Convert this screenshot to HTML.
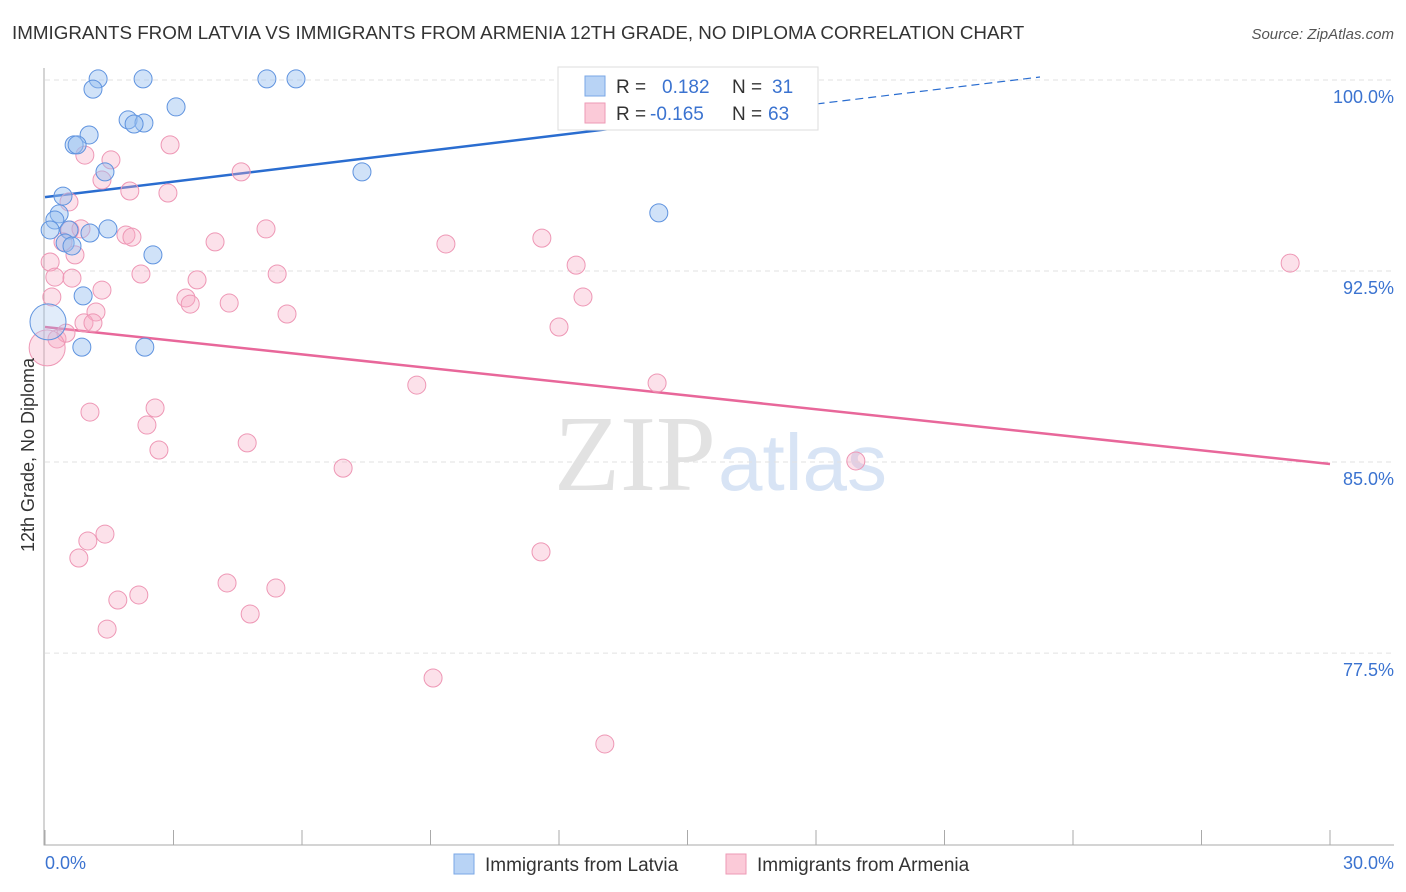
<!DOCTYPE html>
<html><head><meta charset="utf-8"><style>
body{margin:0;background:#fff;font-family:"Liberation Sans",sans-serif}
#wrap{position:relative;width:1406px;height:892px;overflow:hidden}
</style></head><body>
<div id="wrap">
<svg id="svg" width="1406" height="892" xmlns="http://www.w3.org/2000/svg">
<text x="12" y="39" font-size="18.8" fill="#333">IMMIGRANTS FROM LATVIA VS IMMIGRANTS FROM ARMENIA 12TH GRADE, NO DIPLOMA CORRELATION CHART</text>
<text x="1394" y="39" font-size="15" fill="#555" font-style="italic" text-anchor="end">Source: ZipAtlas.com</text>
<text x="716" y="490" font-size="108" fill="#e2e2e2" font-family="Liberation Serif,serif" text-anchor="end">ZIP</text>
<text x="718" y="490" font-size="80" fill="#d8e4f5">atlas</text>
<g id="grid"></g>
<g id="axes"></g>
<g id="lines"></g>
<g id="pts"></g>
<text transform="translate(34,455) rotate(-90)" font-size="18" fill="#333" text-anchor="middle">12th Grade, No Diploma</text>
<text x="45" y="869" font-size="18" fill="#3b73d0">0.0%</text>
<text x="1394" y="869" font-size="18" fill="#3b73d0" text-anchor="end">30.0%</text>
<g>
<rect x="558" y="67" width="260" height="63" fill="#fff" stroke="#ddd"/>
<rect x="585" y="76" width="20" height="20" fill="#b8d3f5" stroke="#7aa7e6"/>
<rect x="585" y="103" width="20" height="20" fill="#fbcad8" stroke="#ee9ab6"/>
<text x="616" y="93" font-size="19" fill="#333">R = </text><text x="662" y="93" font-size="19" fill="#3b73d0">0.182</text>
<text x="732" y="93" font-size="19" fill="#333">N = </text><text x="772" y="93" font-size="19" fill="#3b73d0">31</text>
<text x="616" y="120" font-size="19" fill="#333">R = </text><text x="650" y="120" font-size="19" fill="#3b73d0">-0.165</text>
<text x="732" y="120" font-size="19" fill="#333">N = </text><text x="768" y="120" font-size="19" fill="#3b73d0">63</text>
</g>
<g>
<rect x="454" y="854" width="20" height="20" fill="#b8d3f5" stroke="#7aa7e6"/>
<text x="485" y="871" font-size="19" fill="#333">Immigrants from Latvia</text>
<rect x="726" y="854" width="20" height="20" fill="#fbcad8" stroke="#ee9ab6"/>
<text x="757" y="871" font-size="19" fill="#333">Immigrants from Armenia</text>
</g>
</svg>
</div>
<script>
const yTicks=[100,92.5,85,77.5];
const yTickLabels=["100.0%","92.5%","85.0%","77.5%"];
const xTicks=[0,3,6,9,12,15,18,21,24,27,30];
const latviaX=[1.24,2.29,5.18,5.86,1.12,3.06,1.94,2.31,2.08,1.03,0.68,0.75,1.40,7.40,0.42,14.33,0.33,0.23,0.12,1.47,0.56,1.05,0.47,0.63,2.52,0.89,0.86,2.33,0.07];
const latviaY=[100.71,100.71,100.71,100.71,100.31,99.61,99.10,98.98,98.94,98.51,98.12,98.12,97.06,97.06,96.11,95.45,95.41,95.17,94.78,94.82,94.78,94.66,94.27,94.15,93.80,92.19,90.18,90.18,91.17];
const latviaSize=[1,1,1,1,1,1,1,1,1,1,1,1,1,1,1,1,1,1,1,1,1,1,1,1,1,1,1,1,2];
const armeniaX=[0.93,1.54,2.92,4.58,1.33,1.98,2.87,0.56,0.58,0.84,1.89,2.03,5.16,3.97,9.36,11.60,0.42,0.70,0.12,2.24,3.55,5.42,12.40,29.07,0.23,0.63,0.16,1.33,3.29,3.39,4.30,5.65,12.56,1.19,0.91,1.12,12.00,0.28,0.49,0.05,8.68,14.29,1.05,2.57,2.38,2.66,4.72,6.96,18.93,11.58,0.79,1.00,1.40,1.70,2.19,4.25,5.39,4.79,1.45,9.06,13.07];
const armeniaY=[97.72,97.53,98.12,97.06,96.74,96.31,96.23,95.88,94.78,94.82,94.58,94.50,94.82,94.31,94.23,94.46,94.31,93.80,93.52,93.05,92.82,93.05,93.40,93.48,92.93,92.89,92.15,92.42,92.11,91.87,91.91,91.48,92.15,91.56,91.13,91.13,90.97,90.50,90.73,90.15,88.69,88.77,87.63,87.79,87.12,86.14,86.42,85.43,85.71,82.14,81.90,82.57,82.84,80.25,80.45,80.92,80.72,79.70,79.11,77.19,74.60];
const latviaTrend=[96.07,102.16];
const armeniaTrend=[90.97,85.59];
const NS="http://www.w3.org/2000/svg";
const X=v=>45+v/30*1285;
const Y=v=>97+(100-v)*25.47;
function mk(t,a,p){const e=document.createElementNS(NS,t);for(const k in a)e.setAttribute(k,a[k]);p.appendChild(e);return e;}
const grid=document.getElementById('grid'),axes=document.getElementById('axes'),lines=document.getElementById('lines'),pts=document.getElementById('pts');
yTicks.forEach((t,i)=>{
 const l=mk('line',{x1:45,x2:1394,y1:Y(t)-17,y2:Y(t)-17,stroke:'#e2e2e2','stroke-dasharray':'5,4'},grid);
 
 
 const tx=mk('text',{x:1394,y:Y(t)+6,'font-size':18,fill:'#3b73d0','text-anchor':'end'},grid);
 tx.textContent=yTickLabels[i];
 
 
});
const ax=mk('path',{d:'M44,68V845H1394',fill:'none',stroke:'#aaa'},axes);


xTicks.forEach(t=>{
 const l=mk('line',{x1:X(t),x2:X(t),y1:830,y2:845,stroke:'#aaa'},axes);
 
 
});
function trend(tr,col,solidTo,name,dashRest){
 const xs=X(0),ys=Y(tr[0]),xe=X(30),ye=Y(tr[1]);
 const f=x=>ys+(ye-ys)*(x-xs)/(xe-xs);
 const xm=X(solidTo);
 const l=mk('line',{x1:xs,y1:ys,x2:xm,y2:f(xm),stroke:col,'stroke-width':2.5},lines);
 
 
 if(dashRest){
  const xend=Math.min(xe,1040);
  const d=mk('line',{x1:xm,y1:f(xm),x2:xend,y2:f(xend),stroke:col,'stroke-width':1.2,'stroke-dasharray':'8,5'},lines);
  
  
 }
}
trend(latviaTrend,'#2a6dd0',15,'latvia-trend-line',true);
trend(armeniaTrend,'#e8679a',30,'armenia-trend-line',false);
armeniaX.forEach((v,i)=>{
 const c=mk('circle',{cx:X(v),cy:Y(armeniaY[i]),r:i==39?18:9,fill:'rgba(246,170,195,0.35)',stroke:'#ee97b5','stroke-width':1},pts);
 
 
});
latviaX.forEach((v,i)=>{
 const big=latviaSize[i]>1;
 const c=mk('circle',{cx:X(v),cy:Y(latviaY[i]),r:9*latviaSize[i],fill:big?'rgba(170,200,240,0.35)':'rgba(150,190,240,0.45)',stroke:'#5f93df','stroke-width':1},pts);
 
 
});
</script>
</body></html>
